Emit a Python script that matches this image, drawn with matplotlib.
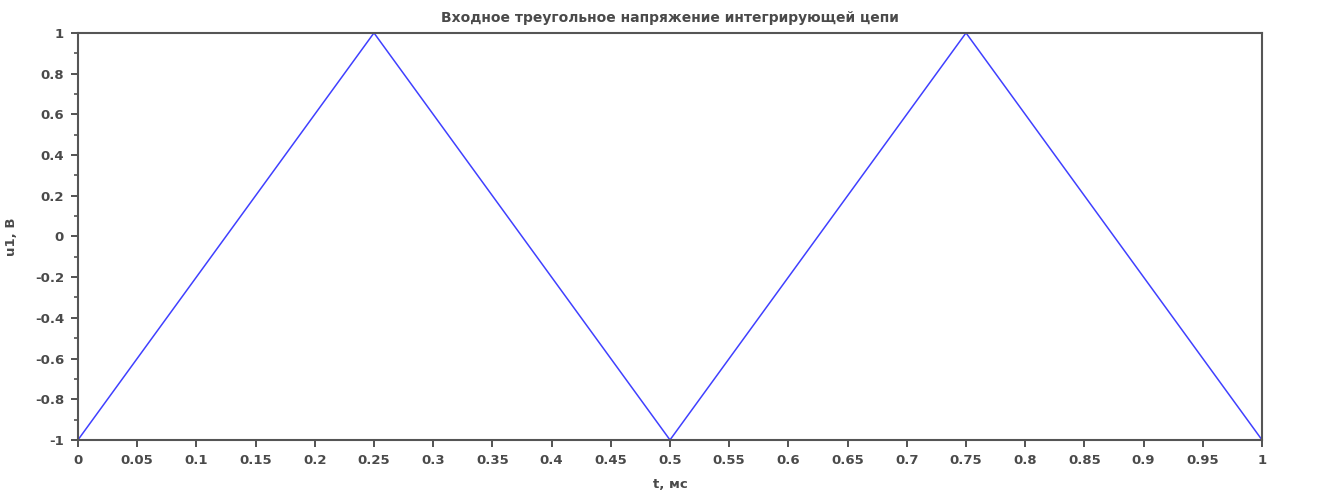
import numpy as np
import matplotlib as mpl
mpl.use("Agg")
import matplotlib.pyplot as plt
from matplotlib.ticker import MultipleLocator

mpl.rcParams.update({"font.family": "DejaVu Sans", "font.size": 9, "font.weight": "bold",
                     "axes.titleweight": "bold", "axes.labelweight": "bold"})

# triangle wave corners
t = [0.0, 0.25, 0.5, 0.75, 1.0]
u1 = [-1.0, 1.0, -1.0, 1.0, -1.0]
xticks = [round(0.05 * i, 2) for i in range(21)]
yticks = [round(-1 + 0.2 * i, 1) for i in range(11)]

TXT = "#4a4a4a"
fig = plt.figure(figsize=(13.44, 4.91), dpi=100)
ax = fig.add_axes([0.058, 0.104, 0.881, 0.829])
ax.plot(t, u1, color="#4040ff", lw=1.1)

ax.set_xlim(0, 1); ax.set_ylim(-1, 1)
ax.set_xticks(xticks)
ax.set_xticklabels([f"{v:g}" for v in xticks])
ax.set_yticks(yticks)
ax.set_yticklabels([f"{v:g}" for v in yticks])
ax.yaxis.set_minor_locator(MultipleLocator(0.1))
ax.tick_params(axis="both", which="major", length=5, width=1.3, color="#444444",
               labelcolor=TXT, labelsize=9.5, pad=5, direction="out")
ax.tick_params(axis="y", which="minor", length=3, width=1.1, color="#444444")
for s in ax.spines.values():
    s.set_color("#555555"); s.set_linewidth(1.5)

ax.set_xlabel("t, мс", fontsize=9.5, color=TXT, labelpad=8)
ax.set_ylabel("u1, В", fontsize=9.5, color=TXT, labelpad=12)
ax.set_title("Входное треугольное напряжение интегрирующей цепи", fontsize=10,
             color=TXT, pad=8)

fig.savefig("out.png", dpi=100)
